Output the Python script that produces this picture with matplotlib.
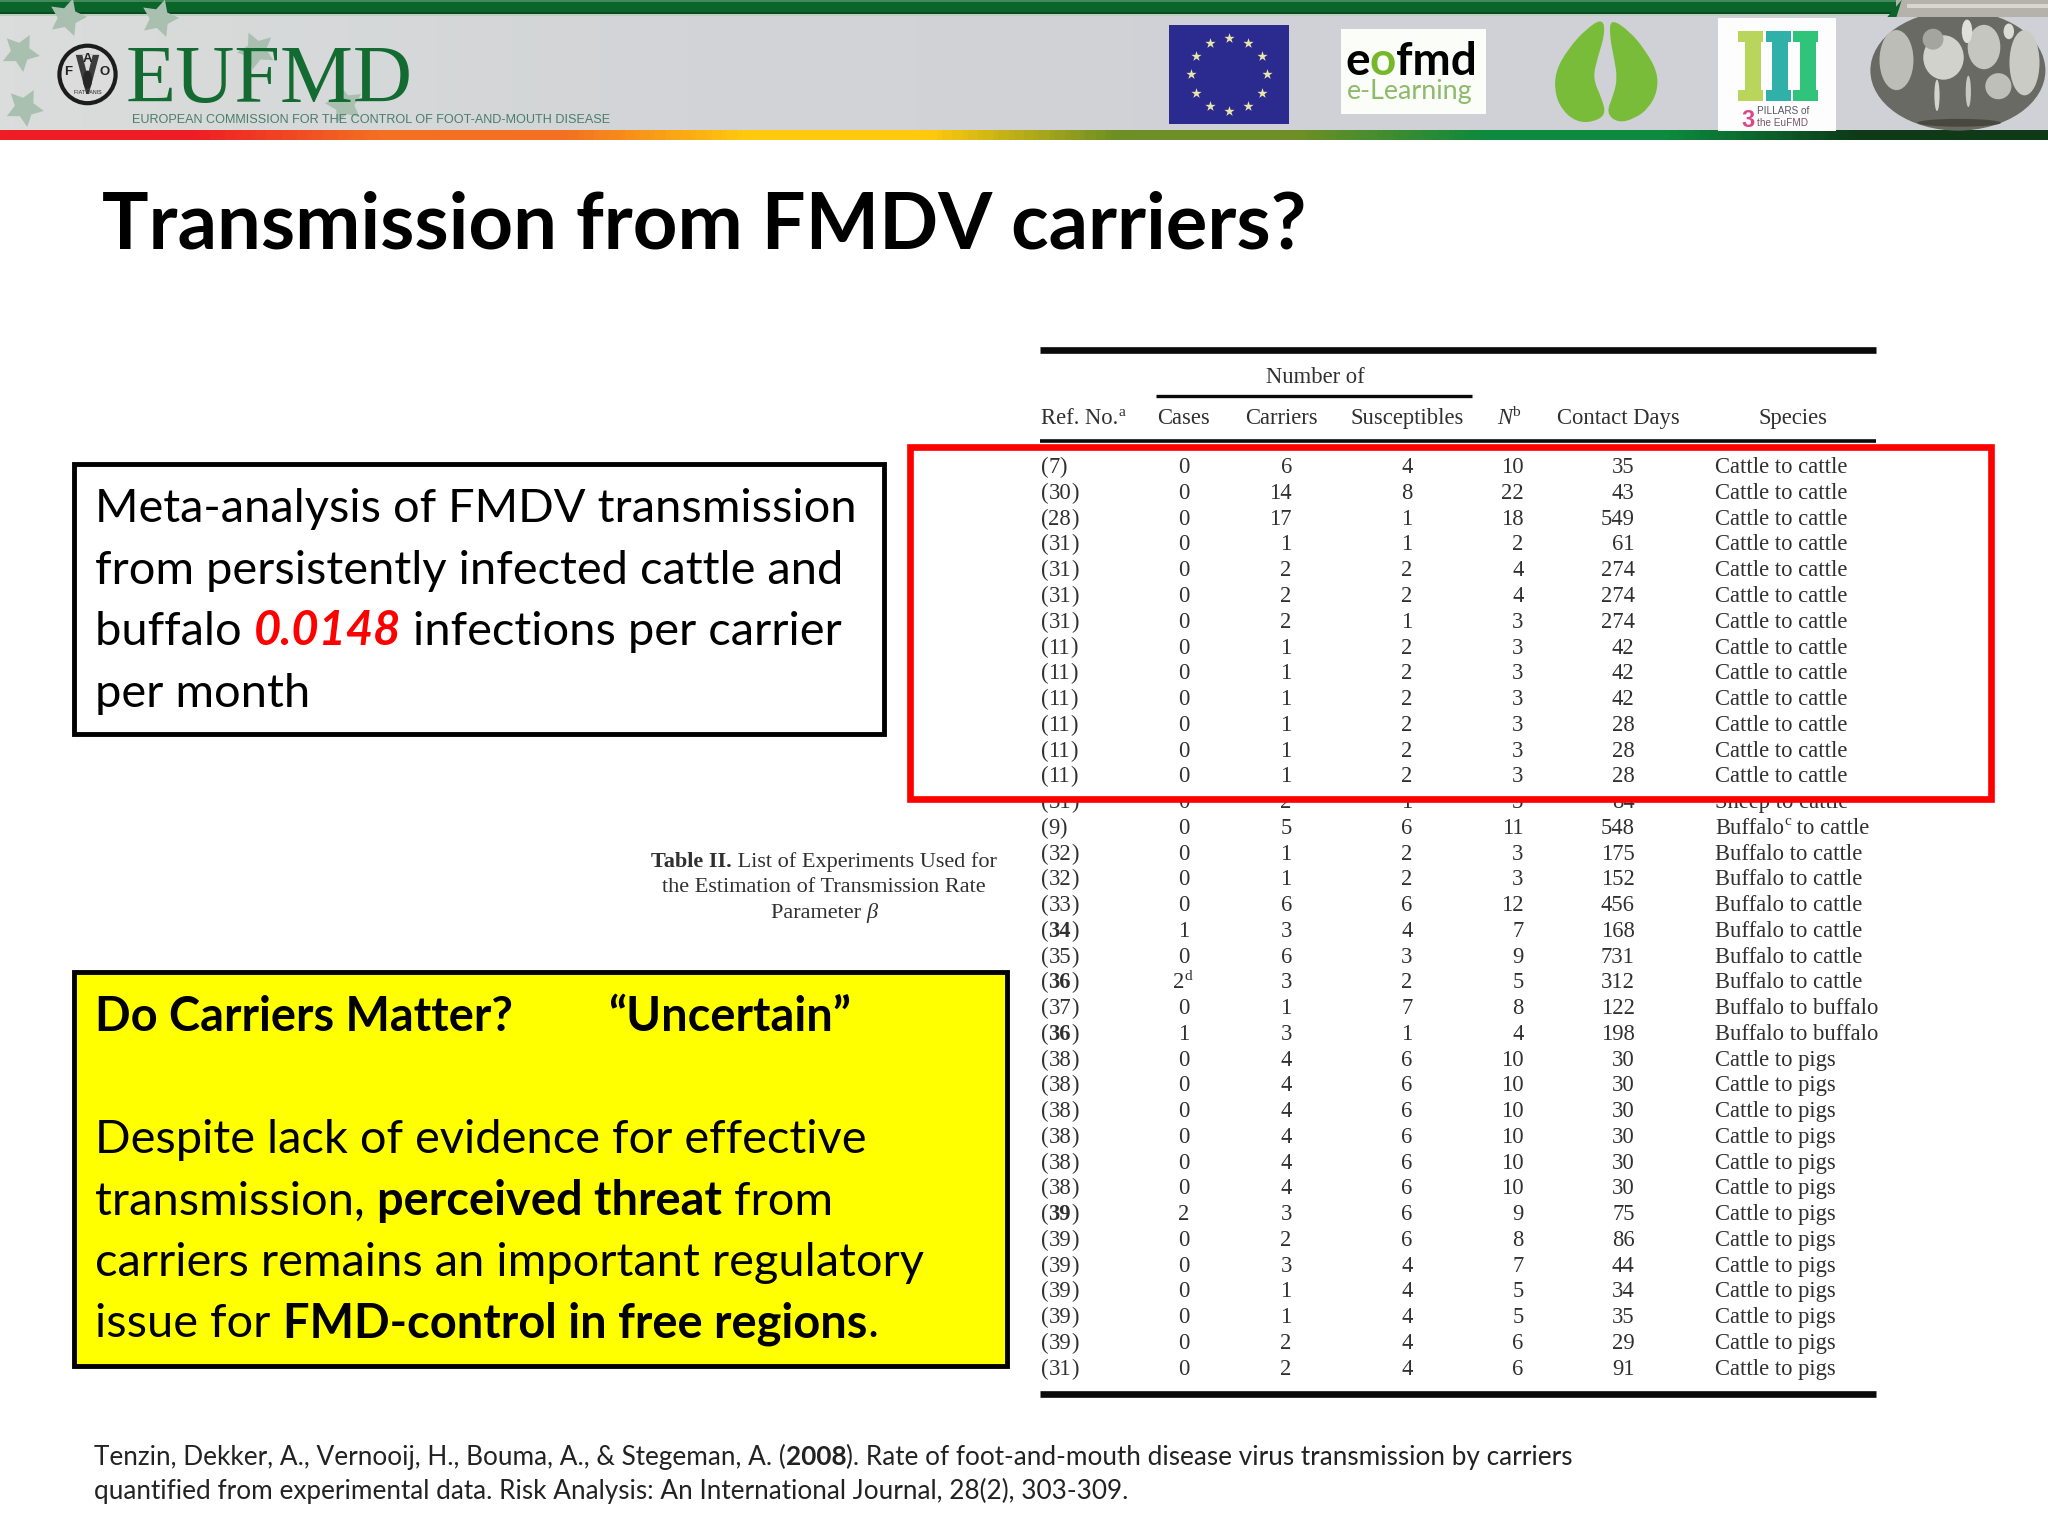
import numpy as np
import matplotlib
matplotlib.use("Agg")
import matplotlib.pyplot as plt
from matplotlib.patches import Rectangle, Ellipse, Polygon, PathPatch
from matplotlib.path import Path
from matplotlib.colors import LinearSegmentedColormap

refs = [7,30,28,31,31,31,31,11,11,11,11,11,11,31,9,32,32,33,34,35,36,37,36,38,38,38,38,38,38,39,39,39,39,39,39,31]
bold_refs = [34,36]
bold_row_39 = 29
cases = [0,0,0,0,0,0,0,0,0,0,0,0,0,0,0,0,0,0,1,0,2,0,1,0,0,0,0,0,0,2,0,0,0,0,0,0]
carriers = [6,14,17,1,2,2,2,1,1,1,1,1,1,2,5,1,1,6,3,6,3,1,3,4,4,4,4,4,4,3,2,3,1,1,2,2]
susceptibles = [4,8,1,1,2,2,1,2,2,2,2,2,2,1,6,2,2,6,4,3,2,7,1,6,6,6,6,6,6,6,6,4,4,4,4,4]
n_values = [10,22,18,2,4,4,3,3,3,3,3,3,3,3,11,3,3,12,7,9,5,8,4,10,10,10,10,10,10,9,8,7,5,5,6,6]
contact_days = [35,43,549,61,274,274,274,42,42,42,28,28,28,84,548,175,152,456,168,731,312,122,198,30,30,30,30,30,30,75,86,44,34,35,29,91]
species = ["Cattle to cattle"]*13 + ["Sheep to cattle","Buffalo|c| to cattle"] + ["Buffalo to cattle"]*6 + ["Buffalo to buffalo"]*2 + ["Cattle to pigs"]*13
col_heads = ["Cases","Carriers","Susceptibles","Contact Days","Species"]
col_head_x = [906,981,1077,1239,1373]
palette = ["#ee1c25","#ee1c25","#f36f21","#f36f21","#ffc90e","#ffc90e","#6d8f25","#6d8f25","#0c8a3e","#0c8a3e","#0e3a18","#0e3a18"]

W, H = 1568, 1176
fig = plt.figure(figsize=(20.48,15.36), dpi=100, facecolor="white")
ax = fig.add_axes([0,0,1,1])
ax.set_xlim(0,W); ax.set_ylim(H,0); ax.axis("off")
R = fig.canvas.get_renderer()
SANS = "Lato"; SERIF = "Liberation Serif"; TC = "#303030"

def width(s, **kw):
    a = ax.text(0,0,s+"|",**kw); b = ax.text(0,0,"|",**kw)
    w = a.get_window_extent(R).width - b.get_window_extent(R).width
    a.remove(); b.remove()
    return w*W/2048

def runs(x, y, parts, size, family=SANS, color="k", z=5, align="left"):
    specs = []; total = 0
    for t, o in parts:
        kw = dict(family=family, fontsize=size*(0.68 if o.get("sup") else 1),
                  fontweight=o.get("weight","normal"), fontstyle=o.get("style","normal"),
                  color=o.get("color",color))
        w = width(t, **kw); specs.append((t,kw,w,o.get("sup"))); total += w
    if align=="center": x -= total/2
    if align=="right": x -= total
    for t,kw,w,sup in specs:
        ax.text(x, y-(size*0.40 if sup else 0), t, va="baseline", ha="left", zorder=z, **kw)
        x += w

def rect(x0,y0,x1,y1,fc,z=1,**kw):
    ax.add_patch(Rectangle((x0,y0),x1-x0,y1-y0,fc=fc,ec=kw.pop("ec","none"),zorder=z,**kw))

def blob(pts, fc, z=3):
    p = np.asarray(pts,float); m = (p+np.roll(p,-1,axis=0))/2
    verts=[m[-1]]; codes=[Path.MOVETO]
    for i in range(len(p)):
        verts += [p[i],m[i]]; codes += [Path.CURVE3,Path.CURVE3]
    ax.add_patch(PathPatch(Path(verts,codes),fc=fc,ec="none",zorder=z))

# ---------- banner ----------
bg = LinearSegmentedColormap.from_list("bg",["#dadddb","#d2d4d7","#cfd1d6","#cfd1d6"])
ax.imshow(np.linspace(0,1,300)[None,:],cmap=bg,extent=(0,W,100,0),aspect="auto",zorder=1)
rect(0,0,W,10,"#0b6429",z=2)
rect(0,0,W,1.5,"#3f8a58",z=2)
rect(0,9,W,10.5,"#0a4a20",z=2)
rect(0,10.5,W,12.5,"#b9d0bc",z=2)
cm = LinearSegmentedColormap.from_list("bar", palette)
ax.imshow(np.linspace(0,1,400)[None,:],cmap=cm,extent=(0,W,107,100),aspect="auto",zorder=2)
ax.set_xlim(0,W); ax.set_ylim(H,0)
for sx,sy,ang_ in [(51,13,-160),(122,14,-160),(15,40,-100),(18,82,-100),(196,38,-120),(263,80,-130)]:
    ax.scatter([sx],[sy],marker=(5,1,ang_),s=800,c="#a9bfb0",linewidths=0,zorder=2.5)
# FAO roundel
ax.add_patch(Ellipse((67,57),43,44,fc="#dcdcdc",ec="#1c1c1c",lw=3,zorder=4))
ax.add_patch(Polygon([[58,42],[76,42],[68,72],[66,72]],closed=True,fc="#3c3c3c",ec="none",zorder=4))
ax.add_patch(Polygon([[63,42],[71,42],[67,58]],closed=True,fc="#dcdcdc",ec="none",zorder=4))
ax.add_patch(Ellipse((67,61),7,14,fc="#262626",ec="none",zorder=5))
for t,px,py in [("F",52,55),("A",67,45),("O",80,55)]:
    ax.text(px,py,t,ha="center",va="center",fontsize=9.5,fontweight="bold",color="#222",family="Liberation Sans",zorder=6)
ax.text(67,71,"FIAT PANIS",ha="center",va="center",fontsize=3.8,color="#222",family="Liberation Sans",zorder=6)
ax.text(96,78,"EUFMD",family=SERIF,fontsize=59,color="#146b31",va="baseline",ha="left",zorder=5)
ax.text(101,94,"EUROPEAN COMMISSION FOR THE CONTROL OF FOOT-AND-MOUTH DISEASE",
        family="Liberation Sans",fontsize=9.1,color="#4b7d6a",va="baseline",ha="left",zorder=5)
# EU flag
rect(895,19,987,95,"#2b2a8f",z=3)
ang = np.deg2rad(np.arange(0,360,30))
ax.scatter(941+29*np.cos(ang),57+28*np.sin(ang),marker="*",s=60,c="#e9e6a8",linewidths=0,zorder=4)
# eofmd logo
rect(1026.5,22,1137.5,87.5,"#fbfdf9",z=3)
runs(1030,57.5,[("e",{"weight":"bold"}),("o",{"weight":"bold","color":"#76b82a"}),("fmd",{"weight":"bold"})],33,family="Lato",z=5)
ax.text(1031,75.5,"e-Learning",family="Lato",fontsize=19.4,color="#8dbb6a",va="baseline",ha="left",zorder=5)
# hoof
def hoof(zp): return [(1010.7+a*.2552, 11.5+b*.2552) for a,b in zp]
blob(hoof([(848,10),(800,40),(745,100),(705,170),(705,240),(730,290),(770,320),(815,322),(858,300),(845,250),(818,190),(832,130),(855,55)]),"#78bc3a")
blob(hoof([(872,10),(930,50),(975,105),(1012,170),(1012,230),(985,280),(945,310),(895,324),(858,295),(880,240),(892,190),(882,130),(868,60)]),"#78bc3a")
# three pillars
rect(1315,13.5,1406,100,"#fdfdfd",z=3)
for x0,c0 in zip([1331,1352,1373],["#b9d55c","#2fb0a8","#2fc47a"]):
    rect(x0,24,x0+19,32,c0,z=4); rect(x0,69,x0+19,77,c0,z=4); rect(x0+5,32,x0+17,69,c0,z=4)
ax.text(1333,97,"3",fontsize=17,fontweight="bold",color="#d8488a",family="Liberation Sans",va="baseline",zorder=5)
ax.text(1345,87.5,"PILLARS of",fontsize=7.2,color="#556",family="Liberation Sans",va="baseline",zorder=5)
ax.text(1345,96.5,"the EuFMD",fontsize=7.2,color="#756",family="Liberation Sans",va="baseline",zorder=5)
# coin
ax.add_patch(Ellipse((1499,54),134,92,fc="#6a6a65",ec="none",zorder=3))
rect(1452,0,W,13,"#b4b2aa",z=3.2); rect(1460,3,W,6,"#d8d6ce",z=3.2)
ax.add_patch(Polygon([[1445,13],[1456,0],[1452,13]],closed=True,fc="#0b6429",ec="none",zorder=3.2))
for cx,cy,w_,h_,c0 in [(1452,46,26,46,"#bdbdb8"),(1488,44,31,34,"#d2d2cd"),(1519,36,25,34,"#c6c6c1"),(1550,48,23,50,"#cbcbc6"),
                       (1530,66,20,20,"#bfbfba"),(1483,73,4,24,"#d4d4cf"),(1507,70,4,24,"#c9c9c4"),(1506,24,8,18,"#e0e0da"),
                       (1500,94,64,6,"#48483f"),(1480,30,16,16,"#a5a5a0"),(1538,24,8,12,"#dcdcd7")]:
    ax.add_patch(Ellipse((cx,cy),w_,h_,fc=c0,ec="none",zorder=3.4))
rect(1430,100,W,107,"#0e3a18",z=3.5)

# ---------- title ----------
ax.text(78,190.5,"Transmission from FMDV carriers?",family=SANS,fontweight="bold",fontsize=56,color="k",va="baseline",ha="left",zorder=5)

# ---------- white box ----------
BODY = 33.8
rect(56.5,355.5,677,562,"white",z=2,ec="k",lw=3.5)
for yy,p in zip([400,447,494,541],[
    [("Meta-analysis of FMDV transmission",{})],
    [("from persistently infected cattle and",{})],
    [("buffalo ",{}),("0.0148",{"weight":"bold","style":"italic","color":"#ff0000"}),(" infections per carrier",{})],
    [("per month",{})]]):
    runs(73,yy,p,BODY)

# ---------- yellow box ----------
rect(56.5,744.5,771,1046,"#ffff00",z=2,ec="k",lw=3.5)
B={"weight":"bold"}
runs(73,789,[("Do Carriers Matter?",B)],BODY)
runs(466,789,[("\u201cUncertain\u201d",B)],BODY)
for yy,p in zip([883,930,977,1024],[
    [("Despite lack of evidence for effective",{})],
    [("transmission, ",{}),("perceived threat",B),(" from",{})],
    [("carriers remains an important regulatory",{})],
    [("issue for ",{}),("FMD-control in free regions",B),(".",{})]]):
    runs(73,yy,p,BODY)

# ---------- caption ----------
cs=16
runs(631,664,[("Table II.",B),(" List of Experiments Used for",{})],cs,family=SERIF,color=TC,align="center")
runs(631,683,[("the Estimation of Transmission Rate",{})],cs,family=SERIF,color=TC,align="center")
runs(631,703,[("Parameter ",{}),("\u03b2",{"style":"italic"})],cs,family=SERIF,color=TC,align="center")

# ---------- table ----------
for y0,x0,x1,lw in [(268,796,1436,4.8),(303,885,1127,2.4),(338,796,1436,2.6),(1067,796,1436,4.8)]:
    ax.plot([x0,x1],[y0,y0],color="#0a0a0a",lw=lw,solid_capstyle="butt",zorder=5)
ts=16.3
runs(1007,293,[("Number of",{})],ts,family=SERIF,color=TC,align="center")
runs(797,325,[("Ref. No.",{}),("a",{"sup":True})],ts,family=SERIF,color=TC)
for t,xh in zip(col_heads,col_head_x):
    runs(xh,325,[(t,{})],ts,family=SERIF,color=TC,align="center")
runs(1146,325,[("N",{"style":"italic"}),("b",{"sup":True})],ts,family=SERIF,color=TC)

y_first, dy = 362.3, 19.72
for i,(rf,ca,cr,su,nv,cd,sp) in enumerate(zip(refs,cases,carriers,susceptibles,n_values,contact_days,species)):
    z = 1.5 if i==13 else 5
    yy = y_first + i*dy
    is_bold = (rf in bold_refs and i>=18) or i==bold_row_39
    runs(797,yy,[("(",{}),(str(rf),B if is_bold else {}),(")",{})],ts,family=SERIF,color=TC,z=z)
    if i==20:
        runs(898,yy,[(str(ca),{}),("d",{"sup":True})],ts,family=SERIF,color=TC,z=z)
    else:
        runs(906,yy,[(str(ca),{})],ts,family=SERIF,color=TC,z=z,align="center")
    runs(989,yy,[(str(cr),{})],ts,family=SERIF,color=TC,z=z,align="right")
    runs(1077,yy,[(str(su),{})],ts,family=SERIF,color=TC,z=z,align="center")
    runs(1166.5,yy,[(str(nv),{})],ts,family=SERIF,color=TC,z=z,align="right")
    runs(1251.5,yy,[(str(cd),{})],ts,family=SERIF,color=TC,z=z,align="right")
    if "|" in sp:
        a,b,c_ = sp.split("|")
        runs(1313,yy,[(a,{}),(b,{"sup":True}),(c_,{})],ts,family=SERIF,color=TC,z=z)
    else:
        runs(1313,yy,[(sp,{})],ts,family=SERIF,color=TC,z=z)

# white interior hides the upper part of the row beneath the red frame
rect(697,342,1524,612,"white",z=2)
ax.add_patch(Rectangle((697,342),827,270,fc="none",ec="#ff0000",lw=4.8,zorder=6))

# ---------- citation ----------
fs=18.85; fc="#222222"
runs(72,1121.5,[("Tenzin, Dekker, A., Vernooij, H., Bouma, A., & Stegeman, A. (",{}),("2008",B),
              ("). Rate of foot-and-mouth disease virus transmission by carriers",{})],fs,color=fc)
runs(72,1147.5,[("quantified from experimental data. Risk Analysis: An International Journal, 28(2), 303-309.",{})],fs,color=fc)

fig.savefig("out.png",dpi=100)
